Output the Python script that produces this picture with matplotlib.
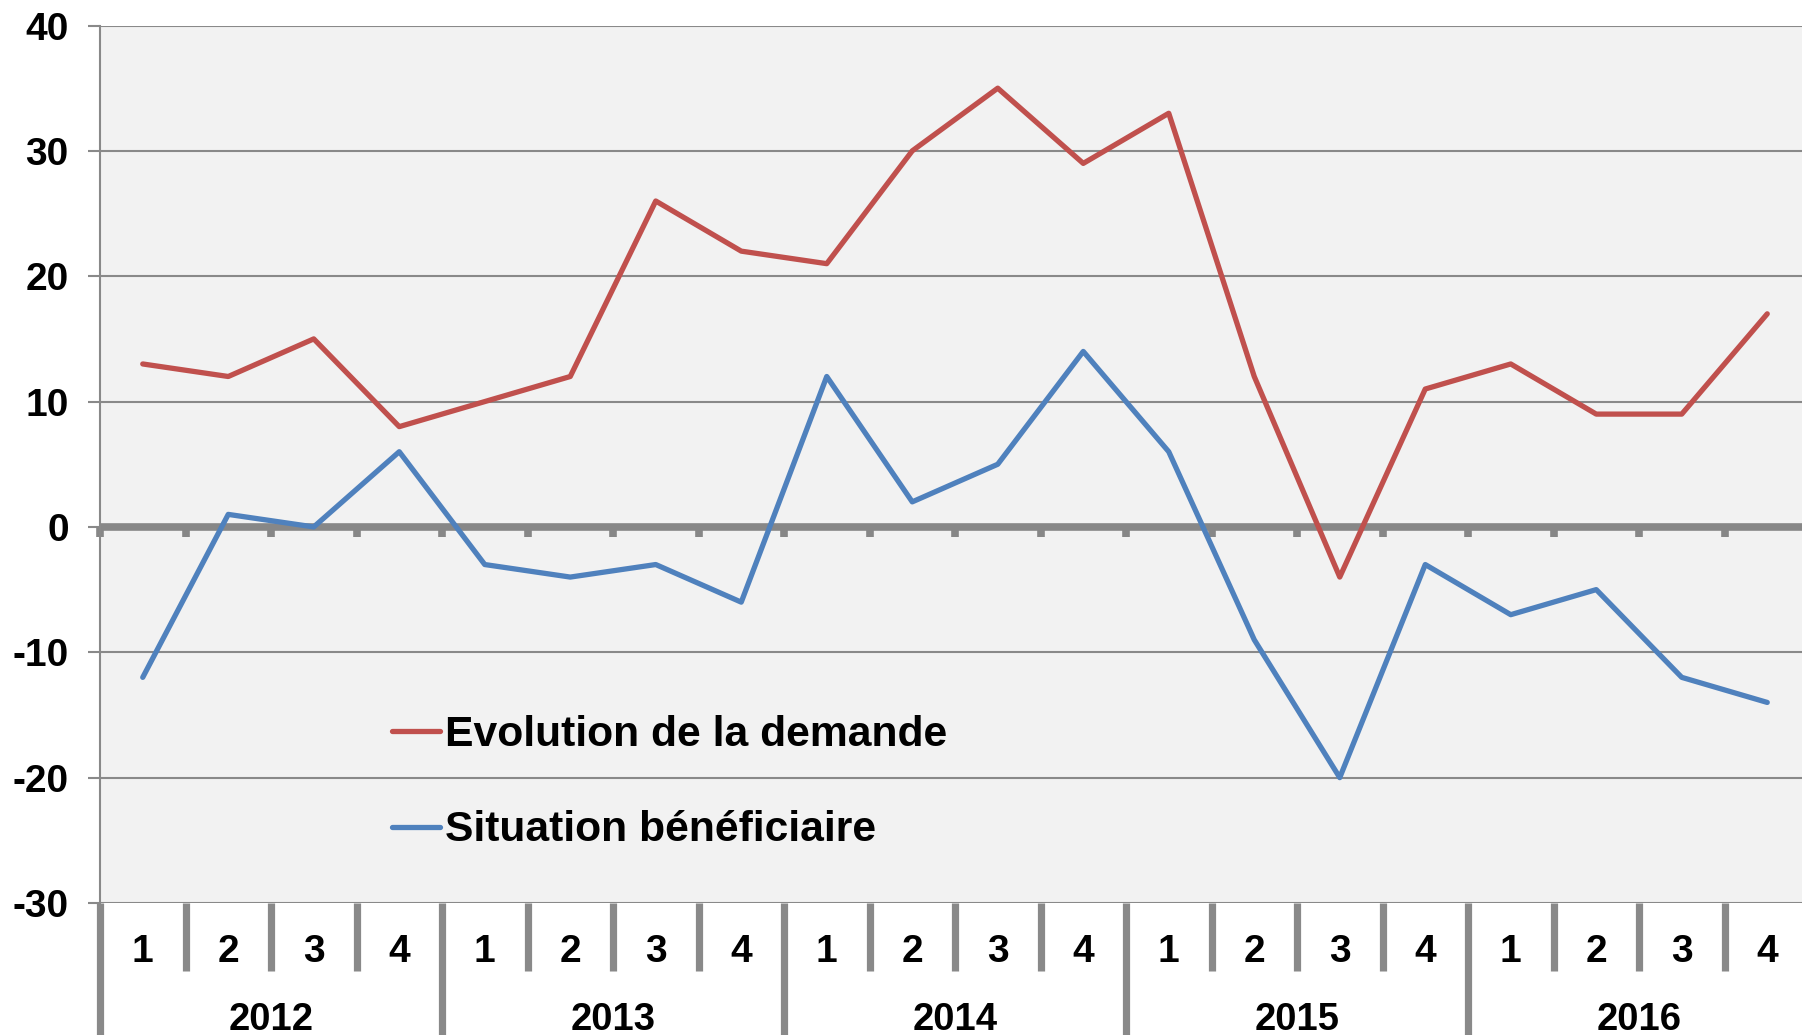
import numpy as np
import matplotlib.pyplot as plt

plt.rcParams['font.family'] = ['Liberation Sans', 'DejaVu Sans']
plt.rcParams['font.weight'] = 'bold'

years = ['2012', '2013', '2014', '2015', '2016']
quarters = ['1', '2', '3', '4']
demande = [13, 12, 15, 8, 10, 12, 26, 22, 21, 30, 35, 29, 33, 12, -4, 11, 13, 9, 9, 17]
benef = [-12, 1, 0, 6, -3, -4, -3, -6, 12, 2, 5, 14, 6, -9, -20, -3, -7, -5, -12, -14]
y_ticks = [-30, -20, -10, 0, 10, 20, 30, 40]

red = '#C0504D'
blue = '#4F81BD'
grey = '#898989'

W, H = 1802, 1035
fig = plt.figure(figsize=(W / 100, H / 100), dpi=100)
ax = fig.add_axes([100 / W, (H - 903) / H, 1710 / W, (903 - 25.5) / H])
ax.set_facecolor('#F2F2F2')

n = len(demande)
x = np.arange(n)
ax.set_xlim(-0.5, n - 0.5)
ax.set_ylim(y_ticks[0], y_ticks[-1])

# grid
ax.set_yticks(y_ticks)
ax.set_yticklabels([str(v) for v in y_ticks], fontsize=28, fontweight='bold')
ax.yaxis.grid(True, color=grey, linewidth=1.5)
ax.set_axisbelow(True)
ax.tick_params(axis='y', direction='out', length=8.5, width=1.5, color=grey, pad=14)
ax.set_xticks([])

for s in ['top', 'right', 'bottom']:
    ax.spines[s].set_visible(False)
ax.spines['left'].set_color(grey)
ax.spines['left'].set_linewidth(1.5)

# zero axis line with ticks
ax.axhline(0, color='#878787', linewidth=5.5, zorder=2)
trans = ax.get_xaxis_transform()
axh = 903 - 25.5
zero_frac = (0 - y_ticks[0]) / (y_ticks[-1] - y_ticks[0])
for b in np.arange(n + 1) - 0.5:
    ax.plot([b, b], [zero_frac, zero_frac - 10.5 / axh], transform=trans,
            color='#878787', linewidth=5.5, clip_on=False, zorder=2, solid_capstyle='butt')

ax.plot(x, demande, color=red, linewidth=3.8, label='Evolution de la demande',
        solid_capstyle='round', zorder=3)
ax.plot(x, benef, color=blue, linewidth=3.8, label='Situation bénéficiaire',
        solid_capstyle='round', zorder=3)

# category axis below the plot
for i in range(n + 1):
    b = i - 0.5
    low = -(1040 - 903) / axh if i % 4 == 0 else -(971 - 903) / axh
    ax.plot([b, b], [0, low], transform=trans, color=grey, linewidth=5.2,
            clip_on=False, solid_capstyle='butt')

for i in range(n):
    ax.text(x[i], -(952.5 - 903) / axh, quarters[i % 4], transform=trans,
            ha='center', va='center', fontsize=28, fontweight='bold')
for j, yr in enumerate(years):
    ax.text(4 * j + 1.5, -(1019.5 - 903) / axh, yr, transform=trans,
            ha='center', va='center', fontsize=27.5, fontweight='bold')

leg = ax.legend(loc='upper left', bbox_to_anchor=(392 / W, 1 - 715 / H),
                bbox_transform=fig.transFigure, frameon=False,
                prop={'weight': 'bold', 'size': 30.7}, handlelength=1.12,
                handletextpad=0.12, borderpad=0, borderaxespad=0, labelspacing=1.3)

fig.savefig('out.png', dpi=100)
